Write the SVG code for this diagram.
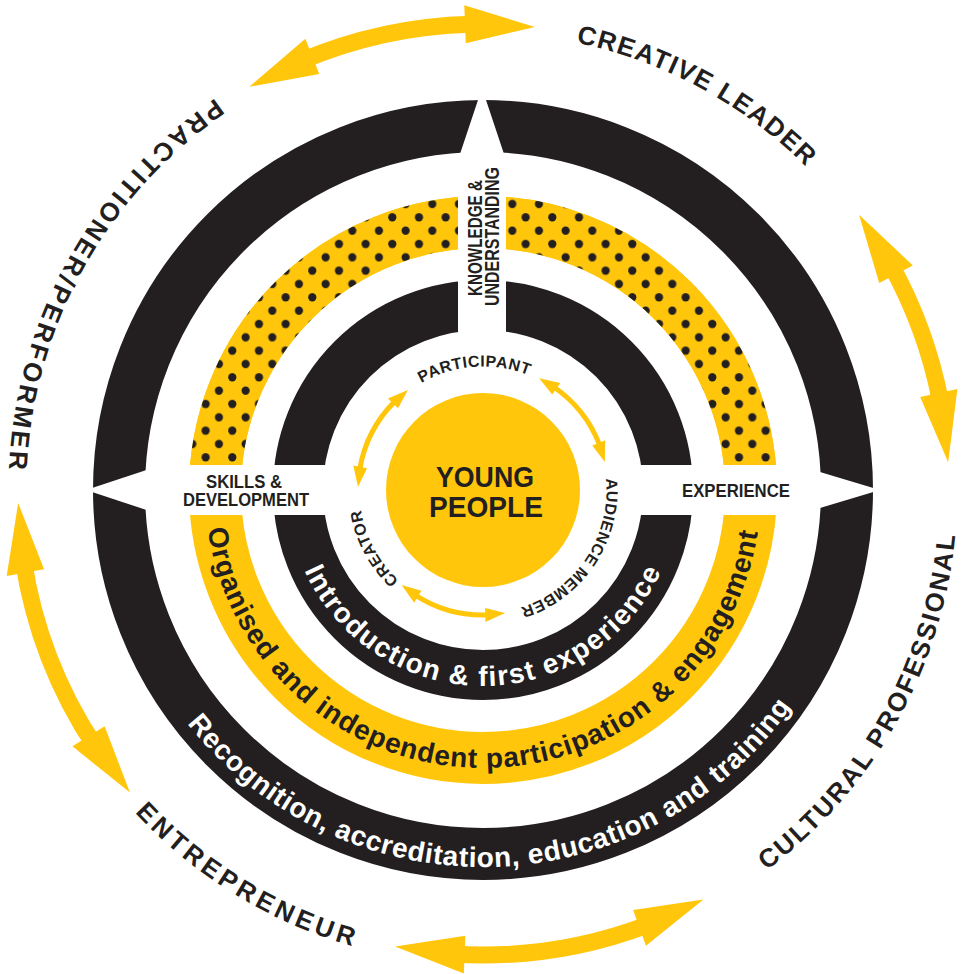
<svg xmlns="http://www.w3.org/2000/svg" width="971" height="974" viewBox="0 0 971 974">
<defs>
<style>
.t{font-family:"Liberation Sans",Arial,sans-serif;font-weight:700;fill:#231F20}
.w{fill:#FFFFFF}
.big{font-size:28px}
.out{font-size:26px}
.in{font-size:16px;letter-spacing:0.6px}
.dim{font-size:18px}
.blk{fill:none;stroke:#231F20}
.yel{fill:#FFC60B}
.shaft{fill:none;stroke:#FFC60B}
.gap{fill:#FFFFFF}
</style>
<pattern id="dots" patternUnits="userSpaceOnUse" x="425.63" y="197.33" width="26.667" height="26.667">
<rect width="26.667" height="26.667" fill="#FFC60B"/>
<circle cx="6.667" cy="6.667" r="4.1" fill="#231F20"/>
<circle cx="20" cy="20" r="4.1" fill="#231F20"/>
</pattern>
<clipPath id="upperHalf"><rect x="0" y="0" width="971" height="490"/></clipPath>
<path id="cwIn" d="M483,613.5 A123.5,123.5 0 1 1 483,366.5 A123.5,123.5 0 1 1 483,613.5"/>
<path id="cwOut" d="M483,947 A457,457 0 1 1 483,33 A457,457 0 1 1 483,947"/>
<path id="ccwOut" d="M483,15.5 A474.5,474.5 0 1 0 483,964.5 A474.5,474.5 0 1 0 483,15.5"/>
<path id="arc196" d="M287,490 A196,196 0 0 0 679,490"/>
<path id="arc278" d="M205,490 A278,278 0 0 0 761,490"/>
<path id="arc377" d="M106,490 A377,377 0 0 0 860,490"/>
</defs>

<g id="rings">
<circle cx="483" cy="490" r="364" class="blk" stroke-width="52"/>
<circle cx="483" cy="490" r="268" fill="none" stroke="#FFC60B" stroke-width="52"/>
<circle cx="483" cy="490" r="268" fill="none" stroke="url(#dots)" stroke-width="52" clip-path="url(#upperHalf)"/>
<circle cx="483" cy="490" r="185" class="blk" stroke-width="50"/>
</g>

<g id="gaps" class="gap">
<rect x="458" y="155" width="48" height="320"/>
<rect x="150" y="465" width="666" height="50"/>
<polygon points="459,157 505,157 482,88"/>
<polygon points="151,468.5 151,511.5 86,490"/>
<polygon points="815,470.5 815,509.5 880,490"/>
</g>

<g id="node-young-people">
<circle cx="483" cy="490" r="97" class="yel"/>
<text class="t" x="485" y="486.7" font-size="30" text-anchor="middle" textLength="98" lengthAdjust="spacingAndGlyphs">YOUNG</text>
<text class="t" x="486" y="516.7" font-size="30" text-anchor="middle" textLength="114" lengthAdjust="spacingAndGlyphs">PEOPLE</text>
</g>

<g id="node-participant"><text class="t in" text-anchor="middle"><textPath href="#cwIn" startOffset="379.1">PARTICIPANT</textPath></text></g>
<g id="node-audience-member"><text class="t in" text-anchor="middle"><textPath href="#cwIn" startOffset="654.2">AUDIENCE MEMBER</textPath></text></g>
<g id="node-creator"><text class="t in" text-anchor="middle"><textPath href="#cwIn" startOffset="133.6">CREATOR</textPath></text></g>

<g id="node-introduction"><text class="t big w" text-anchor="middle" letter-spacing="1.4"><textPath href="#arc196" startOffset="50%">Introduction &amp; first experience</textPath></text></g>
<g id="node-organised"><text class="t big" text-anchor="middle" letter-spacing="0.88"><textPath href="#arc278" startOffset="435.2">Organised and independent participation &amp; engagement</textPath></text></g>
<g id="node-recognition"><text class="t big w" text-anchor="middle" letter-spacing="0.68"><textPath href="#arc377" startOffset="602.7">Recognition, accreditation, education and training</textPath></text></g>

<g id="node-knowledge">
<text class="t" font-size="19.5" transform="translate(481.5,238) rotate(-90)" text-anchor="middle" textLength="116" lengthAdjust="spacingAndGlyphs">KNOWLEDGE &amp;</text>
<text class="t" font-size="19.5" transform="translate(498.5,236.5) rotate(-90)" text-anchor="middle" textLength="139" lengthAdjust="spacingAndGlyphs">UNDERSTANDING</text>
</g>
<g id="node-skills">
<text class="t dim" x="244" y="488" text-anchor="middle" textLength="76" lengthAdjust="spacingAndGlyphs">SKILLS &amp;</text>
<text class="t dim" x="246" y="506" text-anchor="middle" textLength="126" lengthAdjust="spacingAndGlyphs">DEVELOPMENT</text>
</g>
<g id="node-experience">
<text class="t dim" x="736" y="497" text-anchor="middle" textLength="108" lengthAdjust="spacingAndGlyphs">EXPERIENCE</text>
</g>

<g id="node-creative-leader"><text class="t out" text-anchor="middle" letter-spacing="1.5"><textPath href="#cwOut" startOffset="1662.2">CREATIVE LEADER</textPath></text></g>
<g id="node-practitioner"><text class="t out" text-anchor="middle" letter-spacing="3.4"><textPath href="#ccwOut" startOffset="506">PRACTITIONER/PERFORMER</textPath></text></g>
<g id="node-entrepreneur"><text class="t out" text-anchor="middle" letter-spacing="3.9"><textPath href="#ccwOut" startOffset="1230.7">ENTREPRENEUR</textPath></text></g>
<g id="node-cultural-professional"><text class="t out" text-anchor="middle" letter-spacing="2.2"><textPath href="#ccwOut" startOffset="1993.4">CULTURAL PROFESSIONAL</textPath></text></g>

<g id="connectors">
<g id="arrow-practitioner-creative">
<path class="shaft" stroke-width="17" d="M300.92,61.05 A466,466 0 0 1 470.80,24.16"/>
<polygon class="yel" points="249.30,86.84 305.34,38.71 319.26,74.07"/>
<polygon class="yel" points="534.9,26.9 464.30,5.36 465.76,43.33"/>
</g>
<g id="arrow-creative-cultural">
<path class="shaft" stroke-width="17" d="M890.57,264.08 A466,466 0 0 1 940.44,401.08"/>
<polygon class="yel" points="859.04,214.78 912.87,265.39 879.19,282.99"/>
<polygon class="yel" points="948.18,462.36 957.38,389.08 920.22,396.99"/>
</g>
<g id="arrow-practitioner-entrepreneur">
<path class="shaft" stroke-width="17" d="M95.24,746.65 A465,465 0 0 1 23.35,560.34"/>
<polygon class="yel" points="18.18,502.98 6.70,575.95 44.09,569.21"/>
<polygon class="yel" points="129.94,792.61 72.41,746.28 104.65,726.16"/>
</g>
<g id="arrow-entrepreneur-cultural">
<path class="shaft" stroke-width="17" d="M647.36,924.98 A465,465 0 0 1 452.99,954.03"/>
<polygon class="yel" points="395.07,946.61 463.83,973.62 465.33,935.65"/>
<polygon class="yel" points="703.45,899.42 645.92,945.75 633.13,909.97"/>
</g>
<g id="arrow-creator-participant">
<path class="shaft" stroke-width="5" d="M359.71,469.37 A125,125 0 0 1 394.61,401.61"/>
<polygon class="yel" points="407.95,390.04 387.94,398.42 398.02,408.13"/>
<polygon class="yel" points="358.04,486.73 353.28,465.56 367.04,468.15"/>
</g>
<g id="arrow-participant-audience">
<path class="shaft" stroke-width="5" d="M554.16,387.23 A125,125 0 0 1 599.70,445.20"/>
<polygon class="yel" points="539.17,378.33 560.34,383.03 552.14,394.38"/>
<polygon class="yel" points="604.80,461.88 605.24,440.19 592.27,445.47"/>
</g>
<g id="arrow-audience-creator">
<path class="shaft" stroke-width="5" d="M487.80,614.91 A125,125 0 0 1 415.65,595.31"/>
<polygon class="yel" points="505.14,613.03 485.37,621.98 485.12,607.98"/>
<polygon class="yel" points="401.65,584.91 414.16,602.63 421.46,590.68"/>
</g>
</g>
</svg>
